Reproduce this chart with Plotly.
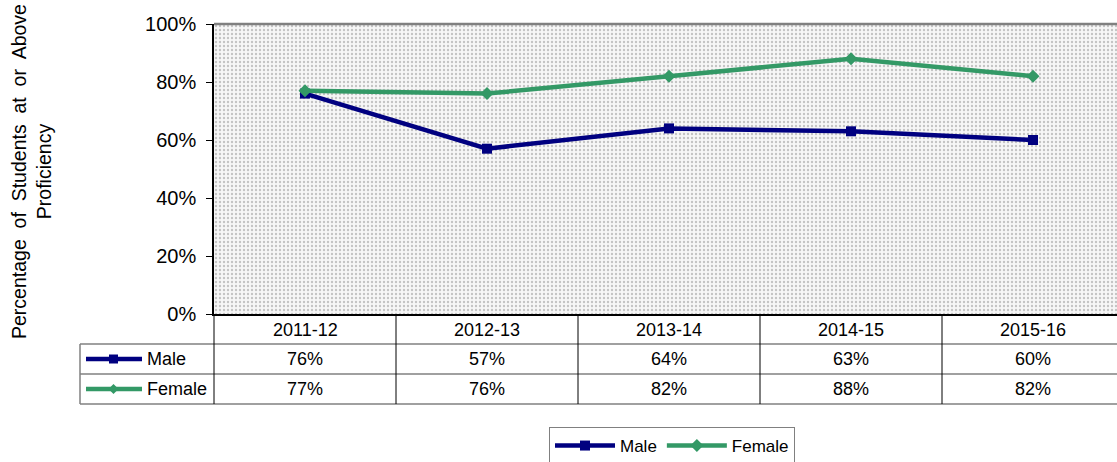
import plotly.graph_objects as go

# ---- data ----
categories = ["2011-12", "2012-13", "2013-14", "2014-15", "2015-16"]
male = [0.76, 0.57, 0.64, 0.63, 0.60]
female = [0.77, 0.76, 0.82, 0.88, 0.82]
y_title = "Percentage\u00a0 of\u00a0 Students\u00a0 at\u00a0 or\u00a0 Above<br>Proficiency"

MALE_C = "#000080"
FEMALE_C = "#339966"
FONT = "Liberation Sans, Arial, sans-serif"

# ---- layout geometry ----
W, H = 1117, 462
L, R, T, B = 214, 0, 24, 148
PW, PH = W - L - R, H - T - B
COLW = 182
XR = [-0.5, -0.5 + PW / COLW]


def px(x):
    return (x - L) / PW


def py(y):
    return (H - B - y) / PH


def xd(v):
    return (v - XR[0]) / (XR[1] - XR[0])


def txt(x, y, text, size=18, xanchor="center", **kw):
    return dict(x=x, y=y, xref="paper", yref="paper", text=text, showarrow=False,
                xanchor=xanchor, yanchor="middle",
                font=dict(size=size, color="black", family=FONT), **kw)


idx = list(range(len(categories)))

fig = go.Figure()

# patterned plot-area background
fig.add_trace(go.Bar(
    x=idx, y=[1] * len(idx), width=[1] * len(idx),
    marker=dict(color="white", line=dict(width=0),
                pattern=dict(shape=".", fgcolor="#c4c4c4", bgcolor="#f7f7f7",
                             size=4, solidity=0.28, fillmode="replace")),
    hoverinfo="skip", showlegend=False,
))

fig.add_trace(go.Scatter(
    x=idx, y=male, name="Male", mode="lines+markers",
    line=dict(color=MALE_C, width=4.5),
    marker=dict(symbol="square", size=10, color=MALE_C),
))
fig.add_trace(go.Scatter(
    x=idx, y=female, name="Female", mode="lines+markers",
    line=dict(color=FEMALE_C, width=4.5),
    marker=dict(symbol="diamond", size=10, color=FEMALE_C),
))

shapes = []
annotations = []

# top border of plot area
shapes.append(dict(type="line", xref="paper", yref="paper", x0=0, x1=1, y0=1, y1=1,
                   line=dict(color="#808080", width=2.5)))

# data table grid
row_lines = [344, 374, 404]
for yy in row_lines:
    shapes.append(dict(type="line", xref="paper", yref="paper", x0=px(80), x1=1,
                       y0=py(yy), y1=py(yy), line=dict(color="#808080", width=1.5)))
shapes.append(dict(type="line", xref="paper", yref="paper", x0=px(80), x1=px(80),
                   y0=py(344), y1=py(404), line=dict(color="#808080", width=1.5)))
for i in range(len(categories)):
    xv = xd(i - 0.5)
    shapes.append(dict(type="line", xref="paper", yref="paper", x0=xv, x1=xv,
                       y0=0, y1=py(404), line=dict(color="#000000", width=1)))

# header + values
for i, c in enumerate(categories):
    annotations.append(txt(xd(i), py(330), c))
    annotations.append(txt(xd(i), py(359), f"{male[i]*100:.0f}%"))
    annotations.append(txt(xd(i), py(389), f"{female[i]*100:.0f}%"))

# legend keys inside table
for name, color, yy, sym in [("Male", MALE_C, 359, "square"), ("Female", FEMALE_C, 389, "diamond")]:
    shapes.append(dict(type="line", xref="paper", yref="paper", x0=px(86), x1=px(142),
                       y0=py(yy), y1=py(yy), line=dict(color=color, width=4.5)))
    if sym == "square":
        shapes.append(dict(type="rect", xref="paper", yref="paper", x0=px(109), x1=px(118),
                           y0=py(yy - 4.5), y1=py(yy + 4.5), fillcolor=color,
                           line=dict(width=0)))
    else:
        cx, cy, s = 113.5, yy, 5
        path = (f"M{px(cx - s)},{py(cy)} L{px(cx)},{py(cy - s)} "
                f"L{px(cx + s)},{py(cy)} L{px(cx)},{py(cy + s)} Z")
        shapes.append(dict(type="path", xref="paper", yref="paper", path=path,
                           fillcolor=color, line=dict(width=0)))
    annotations.append(txt(px(145), py(yy), name, xanchor="left"))

# y-axis title
annotations.append(txt(px(31), py(172), y_title, size=19.5, textangle=-90))

fig.update_layout(
    width=W, height=H,
    margin=dict(l=L, r=R, t=T, b=B, pad=0, autoexpand=False),
    paper_bgcolor="white", plot_bgcolor="white",
    font=dict(family=FONT, color="black"),
    bargap=0,
    shapes=shapes, annotations=annotations,
    legend=dict(orientation="h", xref="container", yref="container",
                x=672 / W, xanchor="center", y=(H - 427) / H, yanchor="top",
                bordercolor="#808080", borderwidth=1, bgcolor="white",
                font=dict(size=17, color="black", family=FONT), itemwidth=60,
                tracegroupgap=0, traceorder="normal"),
    xaxis=dict(range=XR, showticklabels=False, ticks="", showgrid=False, zeroline=False,
               showline=True, linecolor="black", linewidth=1.5, fixedrange=True,
               automargin=False),
    yaxis=dict(range=[0, 1], dtick=0.2, tickformat=".0%", ticks="outside", ticklen=6,
               tickcolor="black", showline=True, linecolor="black", linewidth=1.5,
               showgrid=True, gridcolor="#707070", gridwidth=1, zeroline=False,
               tickfont=dict(size=20, color="black", family=FONT), ticklabelstandoff=6,
               fixedrange=True, automargin=False),
)

fig.write_html("out.html",
               config={"displayModeBar": False},
               post_script="document.body.style.margin='0';document.body.style.padding='0';"
                           "document.body.style.overflow='hidden';")
